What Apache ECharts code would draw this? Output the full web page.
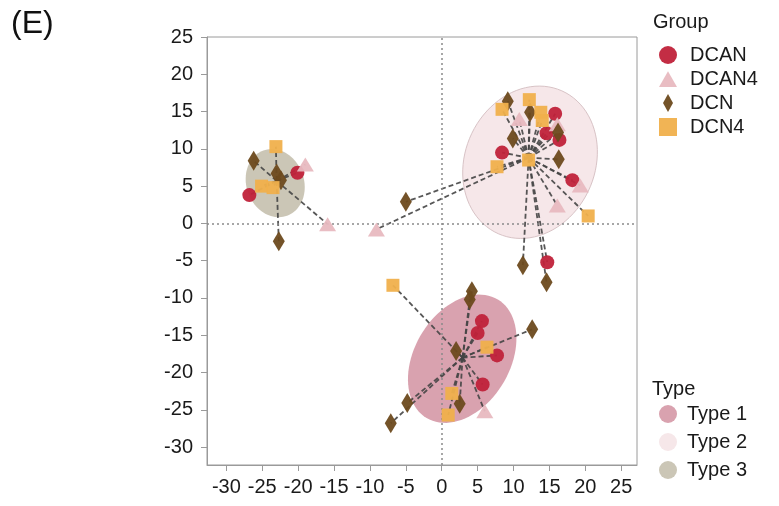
<!DOCTYPE html>
<html>
<head>
<meta charset="utf-8">
<script src="https://cdn.jsdelivr.net/npm/echarts@6/dist/echarts.min.js"></script>
<style>
  html, body { margin: 0; padding: 0; background: #fff; }
  #chart { width: 779px; height: 506px; }
</style>
</head>
<body>
<div id="chart"></div>
<script>
// points: [x, y, type index]  (type 0 = Type 1, 1 = Type 2, 2 = Type 3)
var dcan = [
  [-20.1, 6.8, 2], [-26.8, 3.8, 2],
  [15.8, 14.7, 1], [14.6, 12.1, 1], [16.4, 11.2, 1], [8.4, 9.5, 1], [18.2, 5.8, 1], [14.7, -5.2, 1],
  [5.6, -13.1, 0], [5.0, -14.7, 0], [7.7, -17.7, 0], [5.7, -21.6, 0]
];
var dcan4 = [
  [-19.0, 7.9, 2], [-15.9, -0.1, 2],
  [10.8, 14.0, 1], [16.1, 13.3, 1], [19.3, 5.1, 1], [16.1, 2.4, 1], [-9.1, -0.8, 1],
  [6.0, -25.2, 0]
];
var dcn = [
  [-26.2, 8.4, 2], [-23.0, 6.7, 2], [-22.4, 5.8, 2], [-22.7, -2.4, 2],
  [9.2, 16.4, 1], [12.3, 14.9, 1], [16.2, 12.2, 1], [9.9, 11.4, 1], [16.3, 8.6, 1],
  [11.3, -5.6, 1], [14.6, -7.9, 1], [-5.0, 2.9, 1],
  [4.2, -9.1, 0], [3.9, -10.2, 0], [12.6, -14.2, 0], [2.0, -17.1, 0], [2.5, -24.2, 0],
  [-4.8, -24.1, 0], [-7.1, -26.8, 0]
];
var dcn4 = [
  [-23.1, 10.3, 2], [-25.1, 5.0, 2], [-23.5, 4.8, 2],
  [8.4, 15.3, 1], [12.2, 16.6, 1], [13.8, 14.9, 1], [14.0, 13.8, 1], [7.7, 7.6, 1], [12.1, 8.5, 1], [20.4, 1.0, 1],
  [-6.8, -8.3, 0], [6.3, -16.6, 0], [1.4, -22.8, 0], [0.9, -25.7, 0]
];

// cluster centres the dashed spokes meet at
var centroids = [[2.9, -18.0], [12.1, 8.8], [-23.0, 5.7]];

// ellipses: centre and two half-axis vectors, in data units
var ellipses = [
  [2.85, -18.15, 4.96, 7.95, 5.70, -3.29],
  [12.3, 8.2, 4.43, 9.58, 8.27, -3.55],
  [-23.2, 5.4, -1.65, 4.37, 3.77, 1.32]
];

var groupNames = ['DCAN', 'DCAN4', 'DCN', 'DCN4'];
var typeNames = ['Type 1', 'Type 2', 'Type 3'];

var xTicks = [-30, -25, -20, -15, -10, -5, 0, 5, 10, 15, 20, 25];

var FONT = 'Liberation Sans, Arial, Helvetica, sans-serif';

var chart = echarts.init(document.getElementById('chart'));

// spokes: one segment centroid -> point
function spokeData() {
  var out = [];
  [dcan, dcan4, dcn, dcn4].forEach(function (g) {
    g.forEach(function (p) {
      out.push({ coords: [centroids[p[2]], [p[0], p[1]]] });
    });
  });
  return out;
}

function ellipseRender(params, api) {
  var cx = api.value(0), cy = api.value(1);
  var ux = api.value(2), uy = api.value(3);
  var vx = api.value(4), vy = api.value(5);
  var pts = [];
  for (var i = 0; i < 90; i++) {
    var t = i / 90 * Math.PI * 2;
    pts.push(api.coord([
      cx + ux * Math.cos(t) + vx * Math.sin(t),
      cy + uy * Math.cos(t) + vy * Math.sin(t)
    ]));
  }
  return {
    type: 'polygon',
    shape: { points: pts },
    style: {
      fill: api.visual('color'),
      stroke: params.seriesIndex == 1 ? '#d8c3c6' : 'rgba(0,0,0,0)',
      lineWidth: 1
    }
  };
}

var typeColors = ['#d9a2af', '#f6e7e9', '#cbc6b6'];
var series = [];
typeNames.forEach(function (n, k) {
  series.push({
    name: n,
    type: 'custom',
    renderItem: ellipseRender,
    data: [ellipses[k]],
    encode: { x: 0, y: 1 },
    itemStyle: { color: typeColors[k] },
    silent: true,
    z: 1
  });
});

series.push({
  type: 'lines',
  coordinateSystem: 'cartesian2d',
  data: spokeData(),
  silent: true,
  lineStyle: { color: '#454545', width: 1.8, type: [5, 3], opacity: 0.9 },
  z: 3
});

// dotted zero lines
series.push({
  type: 'line',
  data: [],
  silent: true,
  markLine: {
    silent: true,
    symbol: 'none',
    label: { show: false },
    lineStyle: { color: '#8a8a8a', width: 1.5, type: [2, 3] },
    data: [{ xAxis: 0 }, { yAxis: 0 }]
  },
  z: 2
});

var groupData = [dcan, dcan4, dcn, dcn4];
var groupColors = ['#c0223a', '#e8b9c0', '#6d4a1e', '#f0b04c'];
var groupSymbols = ['circle', 'triangle', 'diamond', 'rect'];
var groupSizes = [14, [17, 14], [12, 20], 13];
groupNames.forEach(function (n, i) {
  series.push({
    name: n,
    type: 'scatter',
    data: groupData[i].map(function (p) { return [p[0], p[1]]; }),
    symbol: groupSymbols[i],
    symbolSize: groupSizes[i],
    itemStyle: { color: groupColors[i], opacity: 0.95 },
    z: 5
  });
});

var option = {
  animation: false,
  backgroundColor: '#fff',
  textStyle: { fontFamily: FONT },
  grid: {
    left: 207, right: 142, top: 37, bottom: 41,
    show: true, borderColor: '#9a9a9a', borderWidth: 1,
    containLabel: false
  },
  xAxis: {
    type: 'value',
    min: -32.7, max: 27.2,
    splitNumber: 12,
    splitLine: { show: false },
    axisLine: { show: true, onZero: false, lineStyle: { color: '#9a9a9a' } },
    axisTick: { show: true, length: 6, lineStyle: { color: '#9a9a9a' } },
    axisLabel: {
      color: '#1a1a1a', fontSize: 20, fontFamily: FONT, margin: 12,
      showMinLabel: false, showMaxLabel: false,
      formatter: function (v) { return xTicks.indexOf(v) >= 0 ? String(v) : ''; }
    }
  },
  yAxis: {
    type: 'value',
    min: -32.4, max: 25,
    splitNumber: 12,
    splitLine: { show: false },
    axisLine: { show: true, onZero: false, lineStyle: { color: '#9a9a9a' } },
    axisTick: { show: true, length: 6, lineStyle: { color: '#9a9a9a' } },
    axisLabel: {
      color: '#1a1a1a', fontSize: 20, fontFamily: FONT, margin: 14,
      showMinLabel: false,
      formatter: function (v) { return (v % 5 == 0) ? String(v) : ''; }
    }
  },
  legend: [
    {
      orient: 'vertical',
      left: 654, top: 40,
      itemWidth: 18, itemHeight: 18,
      itemGap: 4,
      textStyle: { fontSize: 20, color: '#1a1a1a', fontFamily: FONT, padding: [0, 0, 0, 8] },
      data: [
        { name: 'DCAN', icon: 'circle' },
        { name: 'DCAN4', icon: 'path://M8,0L16,14L0,14Z' },
        { name: 'DCN', icon: 'path://M5,0L10,9L5,18L0,9Z' },
        { name: 'DCN4', icon: 'path://M0,0H10V10H0Z' }
      ]
    },
    {
      orient: 'vertical',
      left: 654, top: 399,
      itemWidth: 18, itemHeight: 18,
      itemGap: 8,
      textStyle: { fontSize: 20, color: '#1a1a1a', fontFamily: FONT, padding: [0, 0, 0, 5] },
      data: [
        { name: 'Type 1', icon: 'circle' },
        { name: 'Type 2', icon: 'circle' },
        { name: 'Type 3', icon: 'circle' }
      ]
    }
  ],
  graphic: [
    { type: 'text', left: 11, top: 8, style: { text: '(E)', font: '32px ' + FONT, fill: '#111' } },
    { type: 'text', left: 653, top: 12, style: { text: 'Group', font: '20px ' + FONT, fill: '#1a1a1a' } },
    { type: 'text', left: 652, top: 379, style: { text: 'Type', font: '20px ' + FONT, fill: '#1a1a1a' } }
  ],
  series: series
};

chart.setOption(option);
</script>
</body>
</html>
